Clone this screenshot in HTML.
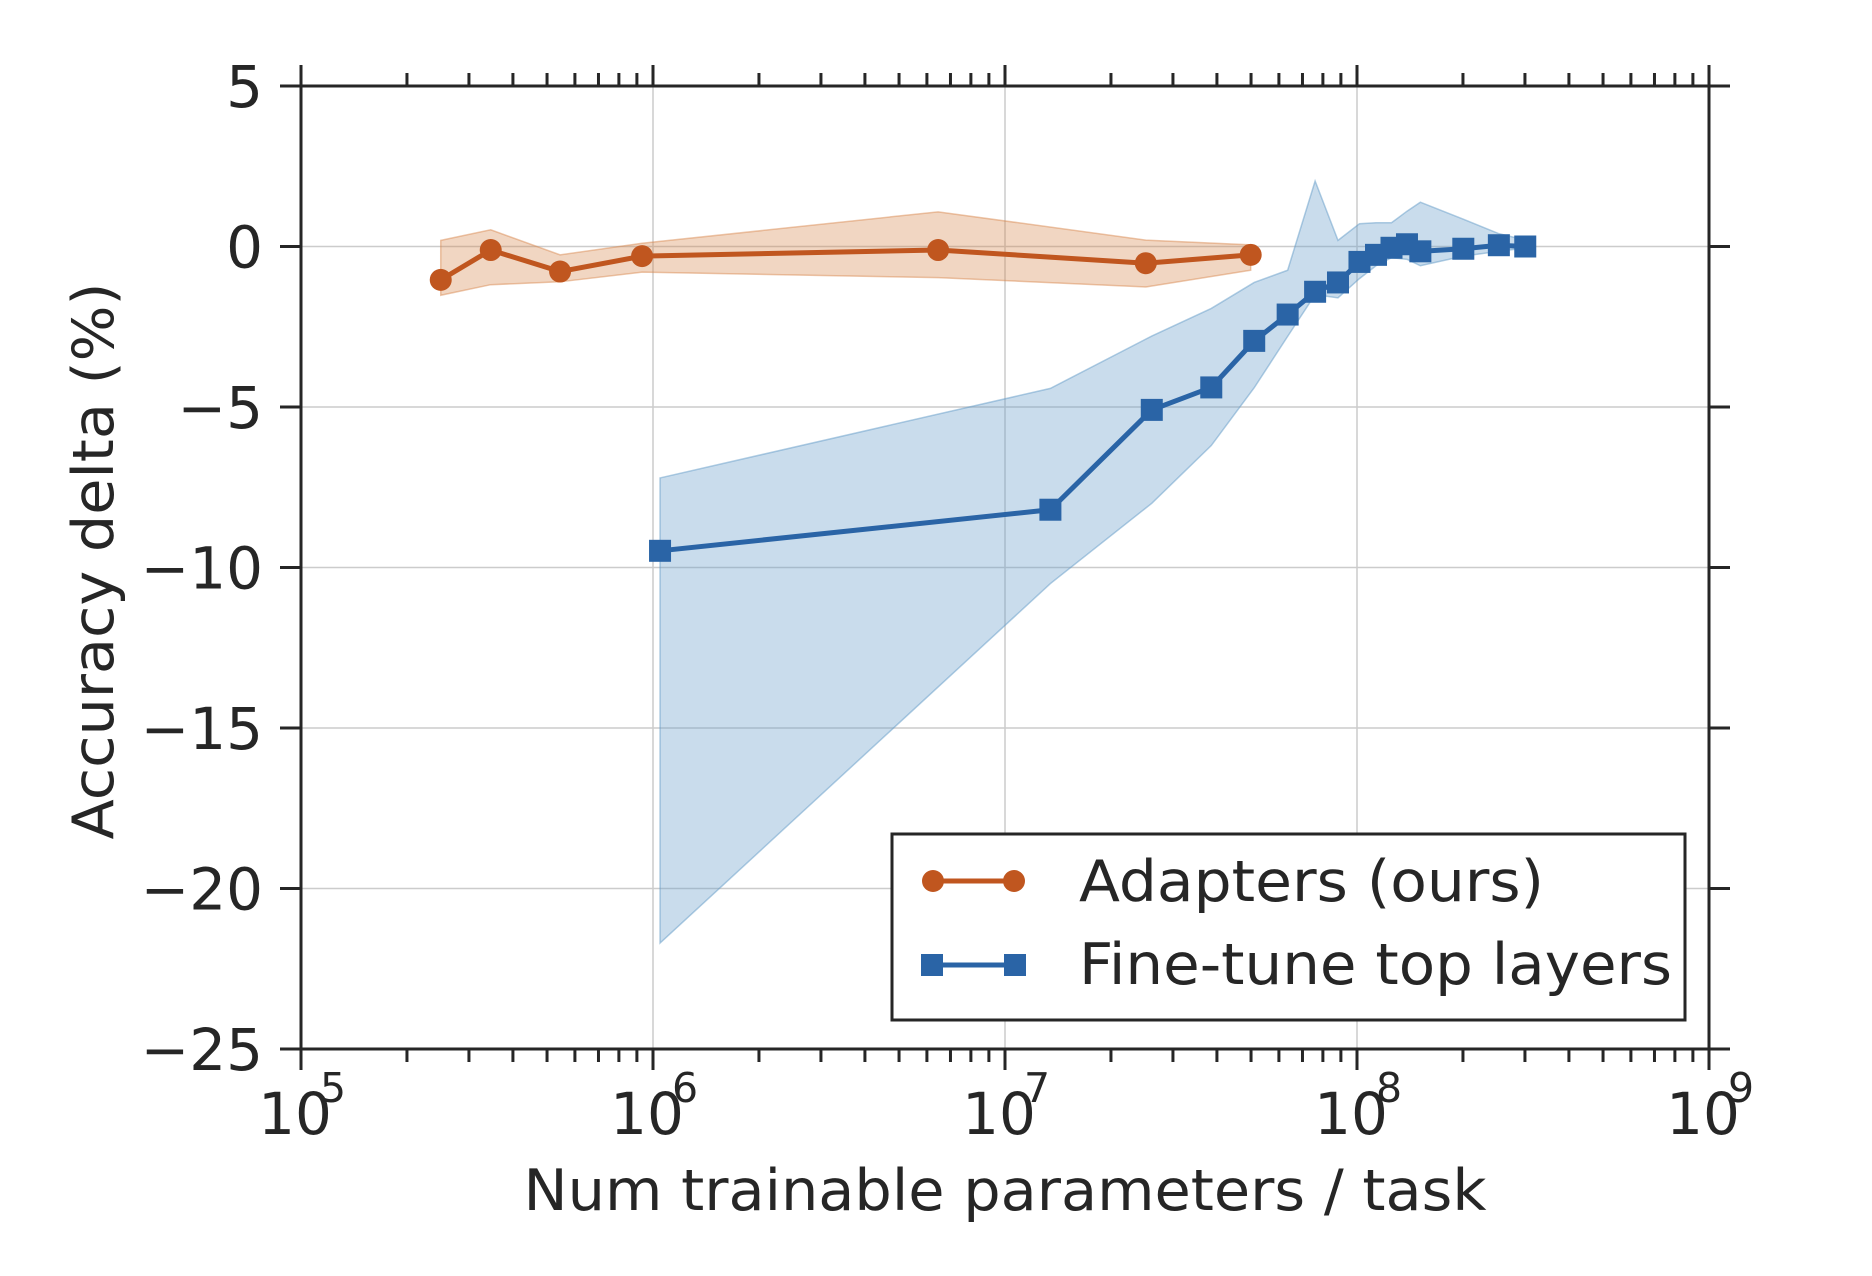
<!DOCTYPE html>
<html><head><meta charset="utf-8"><style>
html,body{margin:0;padding:0;background:#fff;}
svg{display:block;font-family:"DejaVu Sans","Liberation Sans",sans-serif;}
</style></head><body>
<svg id="chart" width="1872" height="1276" viewBox="0 0 1872 1276" xmlns="http://www.w3.org/2000/svg">
<rect x="0" y="0" width="1872" height="1276" fill="#fff"/>
<g id="grid"></g>
<g id="bands"></g>
<g id="series"></g>
<g id="axes"></g>
<text transform="translate(113,561) rotate(-90)" text-anchor="middle" font-size="57" fill="#262626" textLength="557" lengthAdjust="spacingAndGlyphs">Accuracy delta (%)</text>
<text x="1005" y="1210" text-anchor="middle" font-size="57" fill="#262626" textLength="963" lengthAdjust="spacingAndGlyphs">Num trainable parameters / task</text>
<g>
<rect x="892" y="834" width="793" height="186" fill="#fff" stroke="#262626" stroke-width="3"/>
<g>
<line x1="933" y1="881" x2="1014" y2="881" stroke="#c0561f" stroke-width="5"/>
<circle cx="933" cy="881" r="11" fill="#c0561f"/><circle cx="1014" cy="881" r="11" fill="#c0561f"/>
<text x="1079" y="901" font-size="57" fill="#262626" textLength="465" lengthAdjust="spacingAndGlyphs">Adapters (ours)</text>
</g>
<g>
<line x1="933" y1="965" x2="1014" y2="965" stroke="#2a64a6" stroke-width="5"/>
<rect x="921" y="954" width="22" height="22" fill="#2a64a6"/><rect x="1004" y="954" width="22" height="22" fill="#2a64a6"/>
<text x="1079" y="984" font-size="57" fill="#262626" textLength="593" lengthAdjust="spacingAndGlyphs">Fine-tune top layers</text>
</g>
</g>
</svg>
<script>
// Data (log10 of params, accuracy delta %)
const adapterLogX = [5.397, 5.539, 5.736, 5.969, 6.810, 7.400, 7.698];
const adapterY = [-1.04, -0.11, -0.78, -0.30, -0.11, -0.52, -0.26];
const adapterUpper = [0.19, 0.52, -0.26, 0.10, 1.08, 0.20, 0.05];
const adapterLower = [-1.52, -1.19, -1.10, -0.80, -0.97, -1.26, -0.74];
const ftLogX = [6.020, 7.129, 7.417, 7.586, 7.708, 7.803, 7.881, 7.946, 8.007, 8.054, 8.098, 8.142, 8.180, 8.302, 8.403, 8.478];
const ftY = [-9.48, -8.20, -5.09, -4.39, -2.94, -2.12, -1.41, -1.12, -0.48, -0.26, -0.04, 0.07, -0.15, -0.07, 0.04, 0.00];
const ftUpper = [-7.21, -4.42, -2.79, -1.93, -1.12, -0.74, 2.04, 0.19, 0.71, 0.74, 0.74, 1.10, 1.38, 0.85, 0.40, 0.20];
const ftLower = [-21.7, -10.5, -8.0, -6.2, -4.4, -2.8, -1.5, -1.6, -1.0, -0.6, -0.35, -0.4, -0.6, -0.3, -0.15, -0.05];
const yTicks = [5, 0, -5, -10, -15, -20, -25];
const yTickLabels = ["5", "0", "\u22125", "\u221210", "\u221215", "\u221220", "\u221225"];
const xDecades = [5, 6, 7, 8, 9];

const X0 = 301, X1 = 1709, Y0 = 86, Y1 = 1049;
const xs = lx => X0 + (lx - 5) / 4 * (X1 - X0);
const ys = v => Y0 + (5 - v) / 30 * (Y1 - Y0);
const NS = "http://www.w3.org/2000/svg";
function mk(tag, attrs, parent) {
  const e = document.createElementNS(NS, tag);
  for (const k in attrs) e.setAttribute(k, attrs[k]);
  parent.appendChild(e);
  return e;
}
const grid = document.getElementById('grid');
const bands = document.getElementById('bands');
const series = document.getElementById('series');
const axes = document.getElementById('axes');

xDecades.forEach(d => {
  const l = mk('line', {x1: xs(d), x2: xs(d), y1: Y0, y2: Y1, stroke: '#cccccc', 'stroke-width': 1.5}, grid);
  
  
});
yTicks.forEach(v => {
  const l = mk('line', {x1: X0, x2: X1, y1: ys(v), y2: ys(v), stroke: '#cccccc', 'stroke-width': 1.5}, grid);
  
  
});

function band(lx, up, lo, fill, stroke, name) {
  let pts = lx.map((x, i) => xs(x) + ',' + ys(up[i]));
  pts = pts.concat(lx.slice().reverse().map((x, j) => xs(x) + ',' + ys(lo[lx.length - 1 - j])));
  const p = mk('polygon', {points: pts.join(' '), fill: fill, stroke: stroke, 'stroke-width': 1.5}, bands);
  
  
}
band(adapterLogX, adapterUpper, adapterLower, 'rgba(214,130,70,0.33)', 'rgba(214,130,70,0.45)', 'adapters-band');
band(ftLogX, ftUpper, ftLower, 'rgba(100,155,200,0.35)', 'rgba(100,155,200,0.5)', 'finetune-band');

const aLine = mk('polyline', {points: adapterLogX.map((x, i) => xs(x) + ',' + ys(adapterY[i])).join(' '), fill: 'none', stroke: '#c0561f', 'stroke-width': 5}, series);


adapterLogX.forEach((x, i) => {
  const c = mk('circle', {cx: xs(x), cy: ys(adapterY[i]), r: 11, fill: '#c0561f'}, series);
  
  
});
const fLine = mk('polyline', {points: ftLogX.map((x, i) => xs(x) + ',' + ys(ftY[i])).join(' '), fill: 'none', stroke: '#2a64a6', 'stroke-width': 5}, series);


ftLogX.forEach((x, i) => {
  const r = mk('rect', {x: xs(x) - 11, y: ys(ftY[i]) - 11, width: 22, height: 22, fill: '#2a64a6'}, series);
  
  
});

// frame
const frame = mk('rect', {x: X0, y: Y0, width: X1 - X0, height: Y1 - Y0, fill: 'none', stroke: '#262626', 'stroke-width': 3}, axes);


// y ticks
yTicks.forEach((v, i) => {
  mk('line', {x1: X0 - 21, x2: X0, y1: ys(v), y2: ys(v), stroke: '#262626', 'stroke-width': 3}, axes);
  mk('line', {x1: X1, x2: X1 + 21, y1: ys(v), y2: ys(v), stroke: '#262626', 'stroke-width': 3}, axes);
  const t = mk('text', {x: 263, y: ys(v) + 21, 'text-anchor': 'end', 'font-size': 58, fill: '#262626'}, axes);
  t.textContent = yTickLabels[i];
  
  
});
// x ticks
xDecades.forEach(d => {
  mk('line', {x1: xs(d), x2: xs(d), y1: Y1, y2: Y1 + 21, stroke: '#262626', 'stroke-width': 3}, axes);
  mk('line', {x1: xs(d), x2: xs(d), y1: Y0 - 21, y2: Y0, stroke: '#262626', 'stroke-width': 3}, axes);
  const t = mk('text', {x: xs(d) - 6, y: 1134, 'text-anchor': 'middle', 'font-size': 58, fill: '#262626'}, axes);
  t.textContent = '10';
  
  
  const s = mk('text', {x: xs(d) + 32, y: 1102, 'text-anchor': 'middle', 'font-size': 41, fill: '#262626'}, axes);
  s.textContent = String(d);
  
  
  if (d < 9) {
    for (let m = 2; m <= 9; m++) {
      const x = xs(d + Math.log10(m));
      mk('line', {x1: x, x2: x, y1: Y1, y2: Y1 + 13, stroke: '#262626', 'stroke-width': 3}, axes);
      mk('line', {x1: x, x2: x, y1: Y0 - 13, y2: Y0, stroke: '#262626', 'stroke-width': 3}, axes);
    }
  }
});
</script>
</body></html>
